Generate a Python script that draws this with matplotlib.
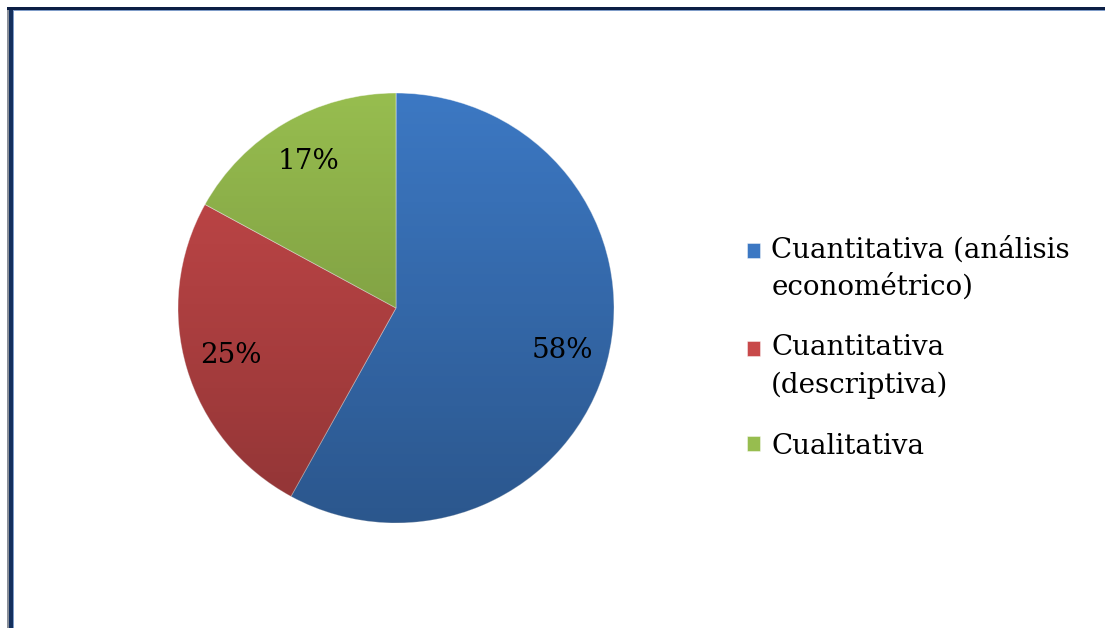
import matplotlib
matplotlib.use("Agg")
import matplotlib.pyplot as plt
import numpy as np
from matplotlib.patches import Rectangle, Circle
from matplotlib.legend_handler import HandlerPatch

# Data
labels = ["Cuantitativa (análisis\neconométrico)", "Cuantitativa\n(descriptiva)", "Cualitativa"]
shares = [58, 25, 17]
colors = ["#3c78c3", "#c8494a", "#97bd4f"]

W, H = 1105, 628
fig = plt.figure(figsize=(W / 100, H / 100), dpi=100)
fig.patch.set_facecolor("white")

# Pie axes: centre (396, 308) px, radius ~216 px
cx, cy, rx, ry = 396, 308, 218, 215
ax = fig.add_axes([(cx - rx) / W, (H - cy - ry) / H, 2 * rx / W, 2 * ry / H])
wedges, texts, autotexts = ax.pie(
    shares, colors=colors, startangle=90, counterclock=False,
    autopct="%1.0f%%", pctdistance=0.79, radius=1.0,
    wedgeprops=dict(linewidth=0.6, edgecolor=(1, 1, 1, 0.5)),
    textprops=dict(family="DejaVu Serif", fontsize=20, color="black"))
ax.set_xlim(-1, 1)
ax.set_ylim(-1, 1)
ax.set_aspect("auto")
ax.axis("off")

# soft top-to-bottom shading like the original 3D-ish style
grad = np.linspace(0, 1, 256).reshape(-1, 1)
shade = np.zeros((256, 1, 4))
shade[..., 3] = 0.28 * grad
im = ax.imshow(shade, extent=[-1, 1, -1, 1], origin="upper", aspect="auto", zorder=3)
im.set_clip_path(Circle((0, 0), 1.0, transform=ax.transData))
for t in autotexts:
    t.set_zorder(5)


# put the legend square next to the first line of a two-line label
def square(legend, orig_handle, xdescent, ydescent, width, height, fontsize):
    shift = 13.3 if orig_handle is not wedges[-1] else 0.0
    return Rectangle((-xdescent, -ydescent + shift), width, height)


leg = fig.legend(wedges, labels, loc="upper left",
                 bbox_to_anchor=(747 / W, 1 - 236 / H),
                 frameon=False, borderpad=0, borderaxespad=0,
                 handlelength=0.47, handleheight=0.47, handletextpad=0.4,
                 labelspacing=1.22, prop=dict(family="DejaVu Serif", size=20),
                 handler_map={w: HandlerPatch(patch_func=square) for w in wedges})
for t in leg.get_texts():
    t.set_linespacing(1.46)

# Frame border (left and top only are visible in the reference)
fig.patches.append(Rectangle((7 / W, 0), 2 / W, (H - 7) / H, transform=fig.transFigure,
                             facecolor="#8a8f99", edgecolor="none"))
fig.patches.append(Rectangle((9 / W, 0), 4 / W, (H - 7) / H, transform=fig.transFigure,
                             facecolor="#14305e", edgecolor="none"))
fig.patches.append(Rectangle((7 / W, 1 - 10 / H), (W - 7) / W, 3 / H, transform=fig.transFigure,
                             facecolor="#0c1f45", edgecolor="none"))
fig.patches.append(Rectangle((13 / W, 1 - 11 / H), (W - 13) / W, 1 / H, transform=fig.transFigure,
                             facecolor="#7f9cc8", edgecolor="none"))
fig.patches.append(Rectangle((13 / W, 0), 1 / W, (H - 10) / H, transform=fig.transFigure,
                             facecolor="#7f9cc8", edgecolor="none"))

fig.savefig("out.png", dpi=100)
